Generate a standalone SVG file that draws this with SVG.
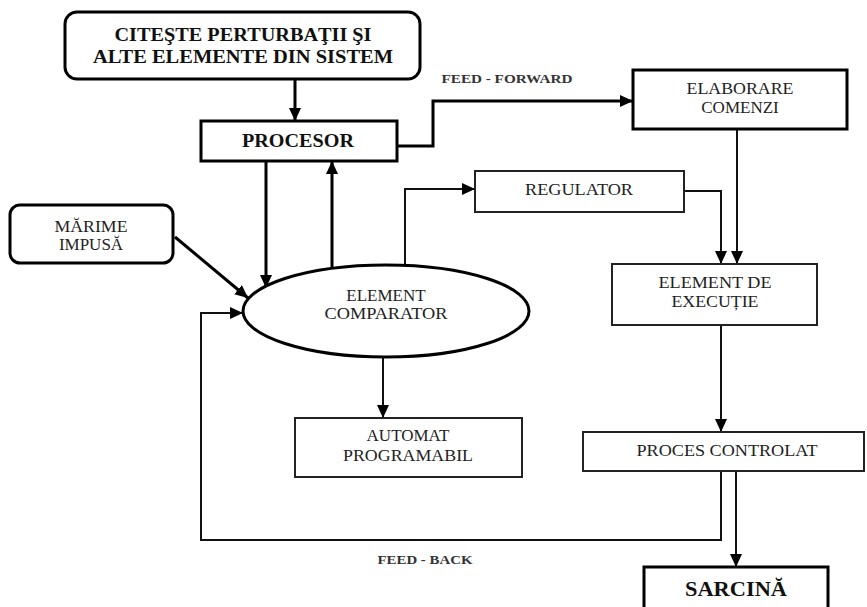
<svg xmlns="http://www.w3.org/2000/svg" width="867" height="607" viewBox="0 0 867 607">
<style>
  .thick { fill: #fff; stroke: #000; stroke-width: 3; }
  .thin { fill: #fff; stroke: #222; stroke-width: 2; }
  text { font-family: 'Liberation Serif', 'DejaVu Serif', 'Times New Roman', serif; }
  .t { font-size: 17px; fill: #222; text-anchor: middle; }
  .b { font-weight: bold; fill: #111; text-anchor: middle; }
  .lbl { font-size: 13px; fill: #333; text-anchor: middle; font-weight: bold; }
  .c3 { fill: none; stroke: #000; stroke-width: 3; }
  .c2 { fill: none; stroke: #111; stroke-width: 2; }
</style>
<defs>
  <marker id="ah" markerUnits="userSpaceOnUse" markerWidth="13" markerHeight="12" refX="13" refY="6" orient="auto">
    <path d="M0,0 L13,6 L0,12 z" fill="#000"/>
  </marker>
</defs>
<rect width="867" height="607" fill="#fff"/>

<g id="connectors">
  <path class="c3" d="M295,79 V121" marker-end="url(#ah)"/>
  <path class="c3" d="M397,146 H433 V101 H633" marker-end="url(#ah)"/>
  <path class="c3" d="M266,161 V288" marker-end="url(#ah)"/>
  <path class="c3" d="M332,268 V161" marker-end="url(#ah)"/>
  <path class="c2" d="M405,266 V189 H475" marker-end="url(#ah)"/>
  <path class="c2" d="M684,191 H721 V264" marker-end="url(#ah)"/>
  <path class="c2" d="M737,129 V264" marker-end="url(#ah)"/>
  <path class="c3" d="M175,237 L248,298" marker-end="url(#ah)"/>
  <path class="c2" d="M383,357 V418" marker-end="url(#ah)"/>
  <path class="c2" d="M721,325 V432" marker-end="url(#ah)"/>
  <path class="c2" d="M721,471 V540 H201 V313 H243" marker-end="url(#ah)"/>
  <path class="c2" d="M736,471 V567" marker-end="url(#ah)"/>
</g>

<g id="citeste">
  <rect class="thick" x="65" y="12" width="355" height="67" rx="12"/>
  <text class="b" x="243" y="41" font-size="19" textLength="257" lengthAdjust="spacingAndGlyphs">CITEŞTE PERTURBAŢII ŞI</text>
  <text class="b" x="243" y="63" font-size="19" textLength="300" lengthAdjust="spacingAndGlyphs">ALTE ELEMENTE DIN SISTEM</text>
</g>

<g id="procesor">
  <rect class="thick" x="201" y="121" width="196" height="40"/>
  <text class="b" x="298" y="147" font-size="19" textLength="112" lengthAdjust="spacingAndGlyphs">PROCESOR</text>
</g>

<g id="elaborare">
  <rect class="thick" x="633" y="70" width="214" height="59"/>
  <text class="t" x="740" y="94" textLength="107" lengthAdjust="spacingAndGlyphs">ELABORARE</text>
  <text class="t" x="740" y="113">COMENZI</text>
</g>

<g id="regulator">
  <rect class="thin" x="475" y="171" width="209" height="41"/>
  <text class="t" x="579" y="195" textLength="108" lengthAdjust="spacingAndGlyphs">REGULATOR</text>
</g>

<g id="marime">
  <rect class="thick" x="10" y="205" width="163" height="58" rx="10"/>
  <text class="t" x="91" y="232" textLength="73" lengthAdjust="spacingAndGlyphs">MĂRIME</text>
  <text class="t" x="91" y="250">IMPUSĂ</text>
</g>

<g id="comparator">
  <ellipse class="thick" cx="386" cy="311" rx="143" ry="46"/>
  <text class="t" x="386" y="301">ELEMENT</text>
  <text class="t" x="386" y="319" textLength="123" lengthAdjust="spacingAndGlyphs">COMPARATOR</text>
</g>

<g id="executie">
  <rect class="thin" x="612" y="264" width="205" height="61"/>
  <text class="t" x="715" y="288" textLength="113" lengthAdjust="spacingAndGlyphs">ELEMENT DE</text>
  <text class="t" x="715" y="307" textLength="87" lengthAdjust="spacingAndGlyphs">EXECUȚIE</text>
</g>

<g id="automat">
  <rect class="thin" x="295" y="418" width="227" height="59"/>
  <text class="t" x="408" y="441">AUTOMAT</text>
  <text class="t" x="408" y="461" textLength="130" lengthAdjust="spacingAndGlyphs">PROGRAMABIL</text>
</g>

<g id="proces">
  <rect class="thin" x="583" y="432" width="281" height="39"/>
  <text class="t" x="727" y="456" textLength="181" lengthAdjust="spacingAndGlyphs">PROCES CONTROLAT</text>
</g>

<g id="sarcina">
  <rect class="thick" x="644" y="567" width="184" height="50"/>
  <text class="b" x="736" y="596" font-size="22" textLength="102" lengthAdjust="spacingAndGlyphs">SARCINĂ</text>
</g>

<g id="labels">
  <text class="lbl" x="507" y="83" textLength="131" lengthAdjust="spacingAndGlyphs">FEED - FORWARD</text>
  <text class="lbl" x="425" y="564" textLength="95" lengthAdjust="spacingAndGlyphs">FEED - BACK</text>
</g>
</svg>
